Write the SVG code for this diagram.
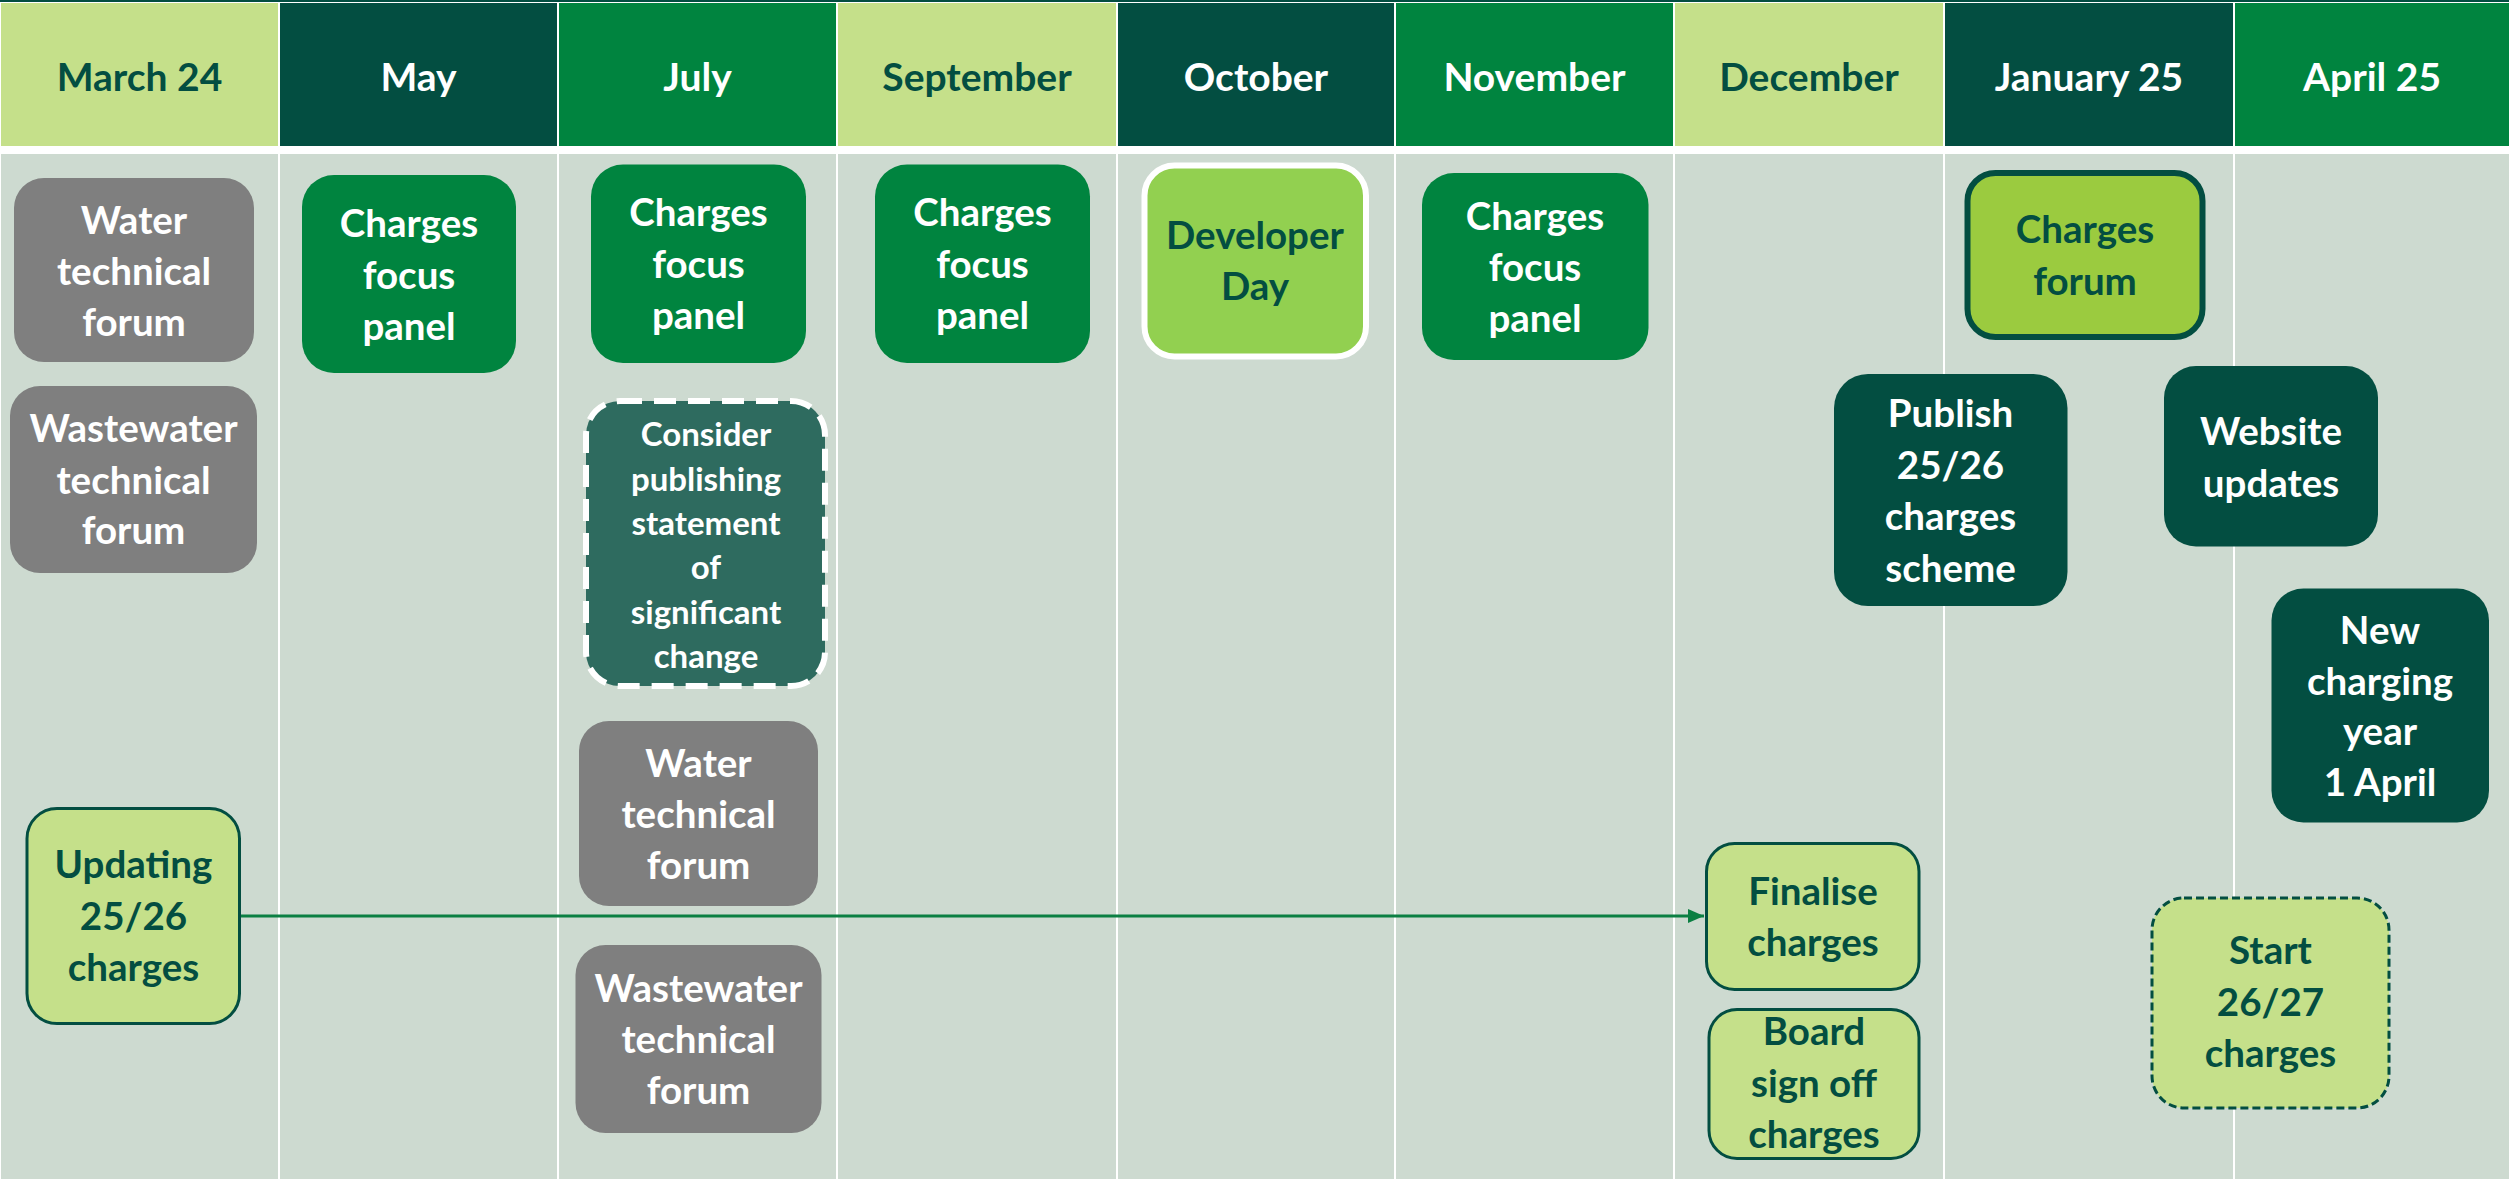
<svg xmlns="http://www.w3.org/2000/svg" width="2509" height="1182" viewBox="0 0 2509 1182">
  <defs>
    <style>
      .lbl { font-family: Lato, "Liberation Sans", Arial, sans-serif; font-weight: 700; text-anchor: middle; }
      .hd { font-size: 39px; }
      .nd { font-size: 38.5px; }
      .sm { font-size: 33px; }
      .w { fill: #FFFFFF; }
      .d { fill: #034E41; }
      .hLight { fill: #C5E08A; }
      .hDark { fill: #034E41; }
      .hMid { fill: #00843F; }
      .body { fill: #CDDAD0; }
      .gray { fill: #7F7F7F; }
      .green { fill: #00843F; }
      .dark { fill: #034E41; }
      .pale { fill: #C5E08A; stroke: #034E41; stroke-width: 3; }
    </style>
    <marker id="arrow" viewBox="0 0 16 14" refX="16" refY="7" markerWidth="16" markerHeight="14" markerUnits="userSpaceOnUse" orient="auto">
      <path d="M0,0 L16,7 L0,14 Z" fill="#0B7F42"/>
    </marker>
  </defs>

  <!-- page -->
  <rect x="0" y="0" width="2509" height="1182" fill="#FFFFFF"/>
  <rect x="0" y="0" width="2509" height="2" fill="#034E41"/>

  <!-- month header -->
  <g id="header">
    <rect class="hLight" x="1" y="3" width="277" height="143"/>
    <rect class="hDark" x="280" y="3" width="277" height="143"/>
    <rect class="hMid" x="559" y="3" width="277" height="143"/>
    <rect class="hLight" x="838" y="3" width="278" height="143"/>
    <rect class="hDark" x="1118" y="3" width="276" height="143"/>
    <rect class="hMid" x="1396" y="3" width="277" height="143"/>
    <rect class="hLight" x="1675" y="3" width="268" height="143"/>
    <rect class="hDark" x="1945" y="3" width="288" height="143"/>
    <rect class="hMid" x="2235" y="3" width="274" height="143"/>
    <text class="lbl hd d" x="139.5" y="91">March 24</text>
    <text class="lbl hd w" x="418.5" y="91">May</text>
    <text class="lbl hd w" x="697.5" y="91">July</text>
    <text class="lbl hd d" x="977" y="91">September</text>
    <text class="lbl hd w" x="1256" y="91">October</text>
    <text class="lbl hd w" x="1534.5" y="91">November</text>
    <text class="lbl hd d" x="1809" y="91">December</text>
    <text class="lbl hd w" x="2089" y="91">January 25</text>
    <text class="lbl hd w" x="2372" y="91">April 25</text>
  </g>

  <!-- month columns -->
  <g id="columns">
    <rect class="body" x="1" y="154" width="277" height="1025"/>
    <rect class="body" x="280" y="154" width="277" height="1025"/>
    <rect class="body" x="559" y="154" width="277" height="1025"/>
    <rect class="body" x="838" y="154" width="278" height="1025"/>
    <rect class="body" x="1118" y="154" width="276" height="1025"/>
    <rect class="body" x="1396" y="154" width="277" height="1025"/>
    <rect class="body" x="1675" y="154" width="268" height="1025"/>
    <rect class="body" x="1945" y="154" width="288" height="1025"/>
    <rect class="body" x="2235" y="154" width="274" height="1025"/>
  </g>

  <!-- connectors -->
  <g id="connectors">
    <line x1="241" y1="916" x2="1704" y2="916" stroke="#0B7F42" stroke-width="3" marker-end="url(#arrow)"/>
  </g>

  <g id="water-forum-mar">
    <rect class="gray" x="14" y="178" width="240" height="184" rx="30"/>
    <text class="lbl nd w" x="134" y="233.5">Water</text>
    <text class="lbl nd w" x="134" y="285">technical</text>
    <text class="lbl nd w" x="134" y="336">forum</text>
  </g>

  <g id="wastewater-forum-mar">
    <rect class="gray" x="10" y="386" width="247" height="187" rx="30"/>
    <text class="lbl nd w" x="133.5" y="442">Wastewater</text>
    <text class="lbl nd w" x="133.5" y="494">technical</text>
    <text class="lbl nd w" x="133.5" y="544">forum</text>
  </g>

  <g id="focus-panel-may">
    <rect class="green" x="302" y="175" width="214" height="198" rx="32"/>
    <text class="lbl nd w" x="409" y="237">Charges</text>
    <text class="lbl nd w" x="409" y="288.5">focus</text>
    <text class="lbl nd w" x="409" y="340">panel</text>
  </g>

  <g id="focus-panel-jul">
    <rect class="green" x="591" y="164.5" width="215" height="198.5" rx="32"/>
    <text class="lbl nd w" x="698.5" y="226">Charges</text>
    <text class="lbl nd w" x="698.5" y="277.5">focus</text>
    <text class="lbl nd w" x="698.5" y="329">panel</text>
  </g>

  <g id="focus-panel-sep">
    <rect class="green" x="875" y="164.5" width="215" height="198.5" rx="32"/>
    <text class="lbl nd w" x="982.5" y="226">Charges</text>
    <text class="lbl nd w" x="982.5" y="277.5">focus</text>
    <text class="lbl nd w" x="982.5" y="329">panel</text>
  </g>

  <g id="significant-change">
    <rect x="586" y="401" width="239" height="285" rx="34" fill="#2E6B5F" stroke="#FFFFFF" stroke-width="6" stroke-dasharray="22 12"/>
    <text class="lbl sm w" x="706" y="446">Consider</text>
    <text class="lbl sm w" x="706" y="490.5">publishing</text>
    <text class="lbl sm w" x="706" y="535">statement</text>
    <text class="lbl sm w" x="706" y="579">of</text>
    <text class="lbl sm w" x="706" y="623.5">significant</text>
    <text class="lbl sm w" x="706" y="668">change</text>
  </g>

  <g id="water-forum-jul">
    <rect class="gray" x="579" y="721" width="239" height="185" rx="30"/>
    <text class="lbl nd w" x="698.5" y="776.5">Water</text>
    <text class="lbl nd w" x="698.5" y="827.5">technical</text>
    <text class="lbl nd w" x="698.5" y="878.5">forum</text>
  </g>

  <g id="wastewater-forum-jul">
    <rect class="gray" x="575.5" y="945" width="246" height="188" rx="30"/>
    <text class="lbl nd w" x="698.5" y="1002">Wastewater</text>
    <text class="lbl nd w" x="698.5" y="1053">technical</text>
    <text class="lbl nd w" x="698.5" y="1104">forum</text>
  </g>

  <g id="updating-charges">
    <rect class="pale" x="27" y="808.5" width="212.5" height="215" rx="30"/>
    <text class="lbl nd d" x="133.5" y="877.5">Updating</text>
    <text class="lbl nd d" x="133.5" y="929.5">25/26</text>
    <text class="lbl nd d" x="133.5" y="981">charges</text>
  </g>

  <g id="developer-day">
    <rect x="1144.5" y="165.5" width="221.5" height="191" rx="30" fill="#92D050" stroke="#FFFFFF" stroke-width="6"/>
    <text class="lbl nd d" x="1255" y="248.5">Developer</text>
    <text class="lbl nd d" x="1255" y="300">Day</text>
  </g>

  <g id="focus-panel-nov">
    <rect class="green" x="1422" y="173" width="226.5" height="187" rx="32"/>
    <text class="lbl nd w" x="1535" y="230">Charges</text>
    <text class="lbl nd w" x="1535" y="281">focus</text>
    <text class="lbl nd w" x="1535" y="332">panel</text>
  </g>

  <g id="charges-forum">
    <rect x="1967.5" y="173" width="235" height="164" rx="28" fill="#9BCB3F" stroke="#034E41" stroke-width="6"/>
    <text class="lbl nd d" x="2085" y="243">Charges</text>
    <text class="lbl nd d" x="2085" y="294.5">forum</text>
  </g>

  <g id="publish-scheme">
    <rect class="dark" x="1834" y="374" width="233.5" height="232" rx="34"/>
    <text class="lbl nd w" x="1950.5" y="426.5">Publish</text>
    <text class="lbl nd w" x="1950.5" y="478.5">25/26</text>
    <text class="lbl nd w" x="1950.5" y="530">charges</text>
    <text class="lbl nd w" x="1950.5" y="581.5">scheme</text>
  </g>

  <g id="website-updates">
    <rect class="dark" x="2164" y="366" width="214" height="180.5" rx="32"/>
    <text class="lbl nd w" x="2271" y="444.5">Website</text>
    <text class="lbl nd w" x="2271" y="496.5">updates</text>
  </g>

  <g id="new-charging-year">
    <rect class="dark" x="2271.5" y="588.5" width="217.5" height="234" rx="32"/>
    <text class="lbl nd w" x="2380" y="643.5">New</text>
    <text class="lbl nd w" x="2380" y="694.5">charging</text>
    <text class="lbl nd w" x="2380" y="745">year</text>
    <text class="lbl nd w" x="2380" y="795.5">1 April</text>
  </g>

  <g id="finalise-charges">
    <rect class="pale" x="1706.5" y="843.5" width="212.5" height="146" rx="28"/>
    <text class="lbl nd d" x="1813" y="904.5">Finalise</text>
    <text class="lbl nd d" x="1813" y="956">charges</text>
  </g>

  <g id="board-sign-off">
    <rect class="pale" x="1709" y="1009.5" width="210" height="149" rx="28"/>
    <text class="lbl nd d" x="1814" y="1045">Board</text>
    <text class="lbl nd d" x="1814" y="1097">sign off</text>
    <text class="lbl nd d" x="1814" y="1147.5">charges</text>
  </g>

  <g id="start-charges">
    <rect x="2152" y="898" width="237" height="210" rx="32" fill="#C5E08A" stroke="#034E41" stroke-width="3" stroke-dasharray="8 4"/>
    <text class="lbl nd d" x="2270.5" y="964">Start</text>
    <text class="lbl nd d" x="2270.5" y="1015.5">26/27</text>
    <text class="lbl nd d" x="2270.5" y="1066.5">charges</text>
  </g>
</svg>
